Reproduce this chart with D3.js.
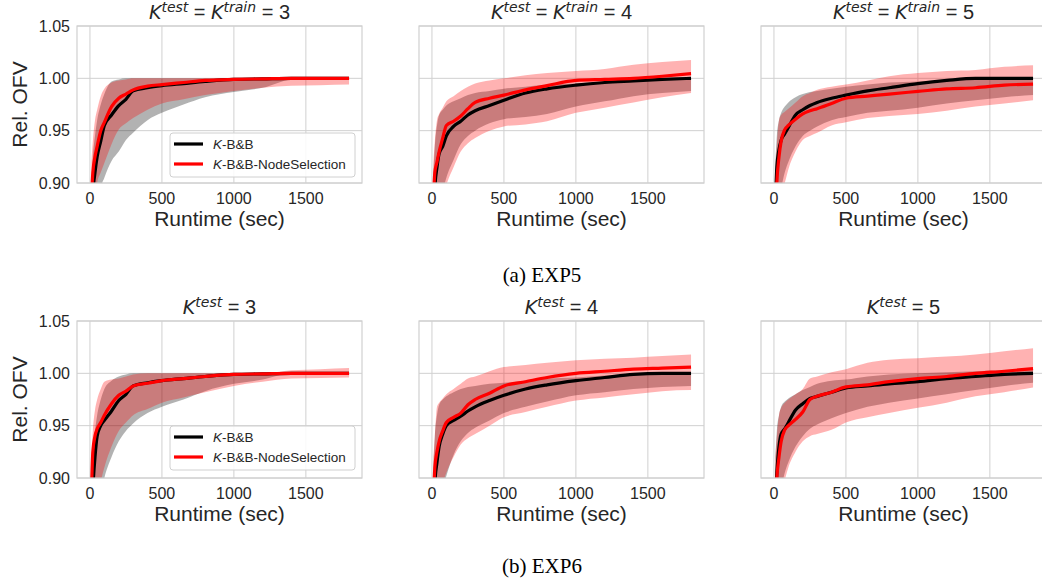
<!DOCTYPE html>
<html><head><meta charset="utf-8">
<script src="https://cdn.jsdelivr.net/npm/d3@7"></script>
<style>
html,body{margin:0;padding:0;background:#fff;}
svg text{font-family:"Liberation Sans",Arial,sans-serif;fill:#262626;}
</style></head>
<body><svg id="c" width="1042" height="586"></svg>
<script>
// ---------- data ----------
const runtime = [10, 20, 35, 50, 75, 100, 150, 200, 250, 300, 400, 500, 650, 800, 1000, 1200, 1400, 1600, 1800];
const xTicks = [0, 500, 1000, 1500];
const yTicks = [0.90, 0.95, 1.00, 1.05];
const seriesNames = ["K-B&B", "K-B&B-NodeSelection"];
const rowCaptions = ["(a) EXP5", "(b) EXP6"];
const kValues = [3, 4, 5];

// EXP5 K=3
const exp5_k3_bbMean = [0.86,0.89,0.91,0.925,0.94,0.955,0.965,0.974,0.980,0.988,0.991,0.993,0.995,0.997,0.999,0.9995,1.0,1.0,1.0];
const exp5_k3_bbLow  = [0.84,0.85,0.86,0.87,0.895,0.905,0.921,0.93,0.941,0.948,0.960,0.967,0.975,0.982,0.987,0.991,0.999,1.0,1.0];
const exp5_k3_bbHigh = [0.90,0.925,0.945,0.96,0.975,0.985,0.997,0.999,1.0,1.0,1.0,1.0,1.0,1.0,1.0,1.0,1.0,1.0,1.0];
const exp5_k3_nsMean = [0.885,0.91,0.925,0.935,0.95,0.958,0.973,0.981,0.985,0.989,0.9925,0.994,0.996,0.998,0.999,0.9995,1.0,1.0,1.0];
const exp5_k3_nsLow  = [0.85,0.86,0.87,0.90,0.91,0.919,0.937,0.951,0.957,0.962,0.970,0.976,0.980,0.984,0.988,0.991,0.993,0.9935,0.994];
const exp5_k3_nsHigh = [0.92,0.94,0.96,0.97,0.983,0.99,0.996,0.998,0.999,1.0,1.0,1.0,1.0,1.0,1.0,1.0,1.0,1.0,1.0];
// EXP5 K=4
const exp5_k4_bbMean = [0.86,0.895,0.915,0.928,0.935,0.945,0.954,0.959,0.965,0.969,0.974,0.979,0.986,0.990,0.9935,0.996,0.9975,0.999,1.0];
const exp5_k4_bbLow  = [0.84,0.85,0.86,0.875,0.892,0.905,0.922,0.937,0.945,0.95,0.957,0.961,0.963,0.966,0.973,0.978,0.983,0.986,0.988];
const exp5_k4_bbHigh = [0.91,0.935,0.955,0.965,0.97,0.974,0.978,0.981,0.984,0.986,0.988,0.99,0.992,0.994,0.995,0.997,0.999,1.0,1.001];
const exp5_k4_nsMean = [0.885,0.91,0.92,0.93,0.943,0.955,0.959,0.964,0.971,0.977,0.981,0.984,0.989,0.993,0.998,0.999,1.0,1.002,1.0045];
const exp5_k4_nsLow  = [0.84,0.85,0.865,0.875,0.885,0.898,0.915,0.93,0.938,0.943,0.95,0.954,0.956,0.959,0.967,0.972,0.977,0.982,0.986];
const exp5_k4_nsHigh = [0.92,0.94,0.96,0.966,0.972,0.978,0.983,0.988,0.992,0.995,0.998,1.0,1.003,1.005,1.007,1.009,1.013,1.0155,1.0175];
// EXP5 K=5
const exp5_k5_bbMean = [0.88,0.915,0.932,0.941,0.947,0.953,0.965,0.970,0.974,0.977,0.981,0.984,0.988,0.991,0.995,0.998,1.0,1.0,1.0];
const exp5_k5_bbLow  = [0.85,0.87,0.885,0.895,0.91,0.92,0.935,0.945,0.95,0.954,0.96,0.963,0.967,0.969,0.972,0.976,0.979,0.982,0.984];
const exp5_k5_bbHigh = [0.92,0.945,0.96,0.967,0.973,0.977,0.982,0.985,0.987,0.988,0.99,0.992,0.994,0.996,0.997,0.998,1.0,1.001,1.001];
const exp5_k5_nsMean = [0.86,0.90,0.925,0.94,0.951,0.955,0.961,0.966,0.969,0.971,0.976,0.981,0.983,0.985,0.9875,0.99,0.991,0.9935,0.9945];
const exp5_k5_nsLow  = [0.84,0.86,0.875,0.89,0.90,0.913,0.93,0.941,0.945,0.948,0.955,0.958,0.962,0.964,0.966,0.969,0.973,0.976,0.979];
const exp5_k5_nsHigh = [0.91,0.935,0.96,0.965,0.968,0.971,0.977,0.983,0.986,0.989,0.992,0.994,0.998,1.002,1.005,1.007,1.008,1.011,1.0125];
// EXP6 K=3
const exp6_k3_bbMean = [0.86,0.89,0.92,0.94,0.95,0.955,0.964,0.974,0.980,0.988,0.991,0.993,0.995,0.997,0.999,0.9995,1.0,1.0,1.0];
const exp6_k3_bbLow  = [0.84,0.85,0.86,0.87,0.885,0.90,0.92,0.935,0.945,0.952,0.962,0.968,0.975,0.983,0.99,0.994,1.0,1.0,1.0];
const exp6_k3_bbHigh = [0.90,0.925,0.945,0.96,0.975,0.985,0.993,0.997,0.999,1.0,1.0,1.0,1.0,1.0,1.0,1.0,1.0,1.0,1.0];
const exp6_k3_nsMean = [0.885,0.925,0.94,0.947,0.953,0.96,0.971,0.979,0.983,0.988,0.9905,0.993,0.995,0.997,0.999,0.9995,1.0,1.0,1.0];
const exp6_k3_nsLow  = [0.84,0.85,0.865,0.885,0.897,0.91,0.93,0.945,0.953,0.96,0.966,0.972,0.977,0.982,0.988,0.992,0.995,0.9955,0.996];
const exp6_k3_nsHigh = [0.92,0.945,0.965,0.975,0.985,0.992,0.994,0.995,0.997,0.999,1.0,1.0,1.0,1.0,1.0,1.0,1.003,1.004,1.005];
// EXP6 K=4
const exp6_k4_bbMean = [0.86,0.895,0.915,0.93,0.942,0.95,0.955,0.959,0.964,0.968,0.974,0.979,0.985,0.989,0.993,0.996,0.999,1.0,1.0];
const exp6_k4_bbLow  = [0.84,0.85,0.86,0.875,0.89,0.902,0.922,0.935,0.943,0.948,0.955,0.962,0.968,0.973,0.979,0.982,0.985,0.987,0.988];
const exp6_k4_bbHigh = [0.91,0.94,0.96,0.97,0.975,0.978,0.982,0.985,0.987,0.988,0.99,0.991,0.993,0.995,0.996,0.998,0.999,1.0,1.0];
const exp6_k4_nsMean = [0.88,0.91,0.925,0.935,0.945,0.953,0.958,0.962,0.97,0.975,0.981,0.988,0.992,0.996,1.0,1.002,1.004,1.005,1.006];
const exp6_k4_nsLow  = [0.84,0.85,0.865,0.88,0.895,0.905,0.92,0.932,0.938,0.942,0.95,0.958,0.963,0.968,0.974,0.977,0.98,0.983,0.984];
const exp6_k4_nsHigh = [0.92,0.94,0.968,0.972,0.976,0.98,0.985,0.99,0.995,0.997,1.002,1.006,1.008,1.01,1.0125,1.014,1.015,1.0165,1.018];
// EXP6 K=5
const exp6_k5_bbMean = [0.88,0.905,0.93,0.942,0.947,0.953,0.965,0.971,0.976,0.978,0.982,0.986,0.988,0.99,0.992,0.995,0.997,0.999,1.0];
const exp6_k5_bbLow  = [0.85,0.865,0.88,0.89,0.905,0.915,0.93,0.94,0.947,0.951,0.957,0.962,0.968,0.972,0.976,0.98,0.984,0.988,0.991];
const exp6_k5_bbHigh = [0.92,0.945,0.96,0.968,0.973,0.976,0.98,0.984,0.987,0.99,0.993,0.994,0.997,0.999,1.0,1.001,1.002,1.003,1.004];
const exp6_k5_nsMean = [0.87,0.90,0.92,0.935,0.946,0.95,0.956,0.963,0.975,0.978,0.982,0.987,0.989,0.992,0.995,0.997,1.0,1.002,1.0045];
const exp6_k5_nsLow  = [0.84,0.855,0.87,0.885,0.898,0.91,0.925,0.935,0.94,0.942,0.946,0.953,0.958,0.962,0.967,0.972,0.978,0.982,0.9865];
const exp6_k5_nsHigh = [0.92,0.94,0.96,0.967,0.972,0.975,0.98,0.985,0.995,0.997,1.001,1.004,1.01,1.013,1.0145,1.016,1.018,1.021,1.024];

const panelData = [
  [[exp5_k3_bbMean,exp5_k3_bbLow,exp5_k3_bbHigh,exp5_k3_nsMean,exp5_k3_nsLow,exp5_k3_nsHigh],
   [exp5_k4_bbMean,exp5_k4_bbLow,exp5_k4_bbHigh,exp5_k4_nsMean,exp5_k4_nsLow,exp5_k4_nsHigh],
   [exp5_k5_bbMean,exp5_k5_bbLow,exp5_k5_bbHigh,exp5_k5_nsMean,exp5_k5_nsLow,exp5_k5_nsHigh]],
  [[exp6_k3_bbMean,exp6_k3_bbLow,exp6_k3_bbHigh,exp6_k3_nsMean,exp6_k3_nsLow,exp6_k3_nsHigh],
   [exp6_k4_bbMean,exp6_k4_bbLow,exp6_k4_bbHigh,exp6_k4_nsMean,exp6_k4_nsLow,exp6_k4_nsHigh],
   [exp6_k5_bbMean,exp6_k5_bbLow,exp6_k5_bbHigh,exp6_k5_nsMean,exp6_k5_nsLow,exp6_k5_nsHigh]]
];

// ---------- layout ----------
const svg = d3.select("#c");
const panelLeft = [77, 419, 761];
const panelW = 285;
const rowTop = [26, 321];
const panelH = 157;
const gridCol = "#d0d0d0";
const mathFont = "'DejaVu Sans',sans-serif";

const x = d3.scaleLinear().domain([-90, 1890]).range([0, panelW]);
const y = d3.scaleLinear().domain([0.90, 1.05]).range([panelH, 0]);

const defs = svg.append("defs");
defs.append("clipPath").attr("id","clip").append("rect").attr("width",panelW).attr("height",panelH);

function title(g, row, k) {
  const t = g.append("text").attr("x", panelW/2).attr("y", -7).attr("text-anchor","middle").style("font-size","20px");
  const kk = () => t.append("tspan").style("font-family",mathFont).attr("font-style","italic").style("font-size","19px").text("K");
  const sup = (s) => t.append("tspan").style("font-family",mathFont).attr("font-style","italic").attr("dy",-7).style("font-size","14px").text(s);
  kk(); sup("test");
  if (row === 0) {
    t.append("tspan").attr("dy",7).text(" = ");
    kk(); sup("train");
  }
  t.append("tspan").attr("dy",7).text(" = " + k);
}

const area = (lo, hi) => d3.area().x((d,i)=>x(runtime[i])).y0((d,i)=>y(lo[i])).y1((d,i)=>y(hi[i])).curve(d3.curveMonotoneX);
const line = d3.line().x((d,i)=>x(runtime[i])).y(d=>y(d)).curve(d3.curveMonotoneX);

for (let r = 0; r < 2; r++) {
  for (let c = 0; c < 3; c++) {
    const g = svg.append("g").attr("transform", `translate(${panelLeft[c]},${rowTop[r]})`);
    const [bm, bl, bh, nm, nl, nh] = panelData[r][c];
    g.append("g").selectAll("line").data(xTicks).join("line")
      .attr("x1", d=>x(d)).attr("x2", d=>x(d)).attr("y1",0).attr("y2",panelH)
      .attr("stroke", gridCol).attr("stroke-width",1);
    g.append("g").selectAll("line").data(yTicks).join("line")
      .attr("y1", d=>y(d)).attr("y2", d=>y(d)).attr("x1",0).attr("x2",panelW)
      .attr("stroke", gridCol).attr("stroke-width",1);
    const pg = g.append("g").attr("clip-path","url(#clip)");
    pg.append("path").datum(runtime).attr("d", area(bl,bh)).attr("fill","#000").attr("fill-opacity",0.3);
    pg.append("path").datum(runtime).attr("d", area(nl,nh)).attr("fill","#ff0000").attr("fill-opacity",0.3);
    pg.append("path").datum(bm).attr("d", line).attr("fill","none").attr("stroke","#000").attr("stroke-width",3.2);
    pg.append("path").datum(nm).attr("d", line).attr("fill","none").attr("stroke","#ff0000").attr("stroke-width",3.2);
    g.append("rect").attr("width",panelW).attr("height",panelH).attr("fill","none").attr("stroke",gridCol).attr("stroke-width",1.2);
    g.append("g").selectAll("text").data(xTicks).join("text")
      .attr("x", d=>x(d)).attr("y", panelH + 21).attr("text-anchor","middle").style("font-size","16px")
      .text(d=>d3.format("d")(d));
    g.append("text").attr("x", panelW/2).attr("y", panelH + 43).attr("text-anchor","middle").style("font-size","21px").text("Runtime (sec)");
    if (c === 0) {
      g.append("g").selectAll("text").data(yTicks).join("text")
        .attr("x", -7).attr("y", d=>y(d)).attr("dy","0.35em").attr("text-anchor","end").style("font-size","16px")
        .text(d=>d3.format(".2f")(d));
      g.append("text").attr("transform", `translate(-50,${panelH/2}) rotate(-90)`).attr("text-anchor","middle").style("font-size","21px").text("Rel. OFV");
      const lg = g.append("g").attr("transform", `translate(${93},${107 - (r===1?2:0)})`);
      lg.append("rect").attr("width",185).attr("height",44).attr("rx",3).attr("fill","#fff").attr("fill-opacity",0.85).attr("stroke",gridCol);
      const cols = ["#000","#ff0000"];
      seriesNames.forEach((s,i) => {
        lg.append("line").attr("x1",4).attr("x2",33).attr("y1",11+i*20).attr("y2",11+i*20).attr("stroke",cols[i]).attr("stroke-width",3.2);
        const t = lg.append("text").attr("x",43).attr("y",11+i*20).attr("dy","0.35em").style("font-size","13.5px");
        t.append("tspan").attr("font-style","italic").text(s.slice(0,1));
        t.append("tspan").text(s.slice(1));
      });
    }
    title(g, r, kValues[c]);
  }
}
svg.append("text").attr("x",542).attr("y",282).attr("text-anchor","middle").style("font-family","'Liberation Serif','Times New Roman',serif").style("font-size","21px").style("fill","#000").text(rowCaptions[0]);
svg.append("text").attr("x",542).attr("y",573).attr("text-anchor","middle").style("font-family","'Liberation Serif','Times New Roman',serif").style("font-size","21px").style("fill","#000").text(rowCaptions[1]);
</script></body></html>
